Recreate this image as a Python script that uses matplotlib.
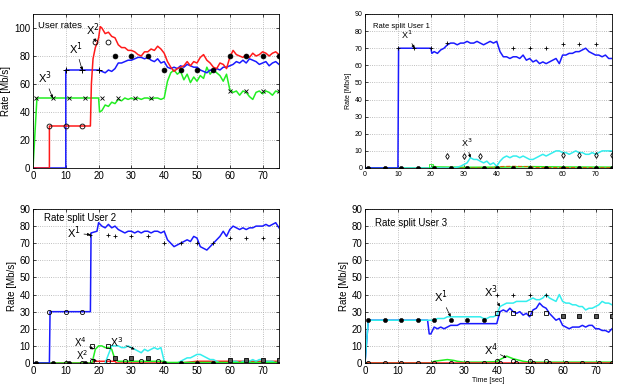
import matplotlib
matplotlib.use("Agg")
import matplotlib.pyplot as plt

plt.rcParams['font.family'] = ['Liberation Sans', 'DejaVu Sans']

# ---------------- data ----------------
noisy_t = list(range(21, 76))

# Panel 1: user rates
u2_t = [0, 5, 5, 10, 17.5, 17.8, 18.3, 19, 19.5, 20, 20.5] + noisy_t
u2_v = [0, 0, 30, 30, 30, 60, 78, 86, 89, 93, 101] + [
    100, 96, 97, 94, 93, 88, 86, 86, 84, 84, 83, 81, 80, 83, 83, 85, 84, 87, 85, 82,
    76, 72, 69, 71, 72, 73, 76, 73, 76, 75, 79, 81, 77, 75, 72, 71, 75, 74, 71, 79,
    84, 81, 80, 79, 81, 79, 82, 80, 81, 83, 82, 80, 82, 83, 81]
u1_t = [0, 10, 10, 20] + noisy_t
u1_v = [0, 0, 70, 70] + [
    69, 68, 70, 69, 71, 75, 75, 76, 77, 77, 78, 79, 79, 78, 79, 77, 76, 78, 75, 76,
    72, 71, 72, 71, 73, 72, 74, 73, 72, 72, 70, 69, 68, 70, 69, 71, 70, 72, 72, 73,
    74, 76, 75, 77, 75, 78, 77, 76, 74, 75, 76, 73, 75, 76, 74]
u3_t = [0, 1.2, 20, 20.3] + noisy_t
u3_v = [0, 50, 50, 40] + [
    41, 45, 44, 47, 46, 49, 48, 50, 49, 50, 49, 50, 49, 50, 50, 49, 50, 50, 49, 50,
    62, 68, 70, 67, 69, 63, 67, 61, 65, 62, 66, 64, 72, 67, 70, 68, 66, 62, 67, 56,
    54, 55, 52, 55, 54, 51, 49, 54, 55, 53, 55, 54, 52, 55, 54]

# Panel 2: rate split user 1
s1_x1_t = [0, 10, 10.2, 20, 20.3] + noisy_t
s1_x1_v = [0, 0, 70, 70, 67] + [
    68, 67, 69, 70, 72, 73, 73, 72, 73, 73, 74, 73, 73, 74, 73, 72, 73, 74, 73, 74,
    68, 65, 65, 64, 65, 65, 64, 66, 63, 64, 62, 63, 61, 62, 61, 62, 63, 64, 61, 66,
    66, 67, 67, 68, 68, 69, 70, 68, 67, 66, 66, 65, 66, 64, 64]
s1_x3_t = [0, 27] + list(range(28, 76))
s1_x3_v = [0, 0] + [
    0.5, 1, 2, 3, 6, 5, 5, 4, 3, 4, 2, 3, 1, 4, 6, 7, 6, 7, 7, 6,
    7, 6, 5, 5, 6, 7, 8, 7, 8, 9, 10, 10, 9, 9, 8, 9, 10, 9, 9, 8,
    8, 9, 8, 9, 10, 10, 10, 10]
s1_g_t = [0, 20, 20.5, 22, 30, 40, 50, 60, 75]
s1_g_v = [0, 0, 1, 0.6, 0.4, 0.5, 0.8, 0.6, 0.5]
s1_r_t = [0, 38, 40, 45, 50, 52, 75]
s1_r_v = [0, 0, 0.8, 1.0, 0.8, 0.3, 0.2]

# Panel 3: rate split user 2
s2_x1_t = [0, 5, 5.2, 17.5, 17.7, 19.5, 20] + noisy_t
s2_x1_v = [0, 0, 30, 30, 76, 77, 82] + [
    80, 79, 81, 79, 80, 78, 77, 76, 77, 77, 76, 77, 76, 77, 77, 76, 77, 77, 76, 77,
    72, 70, 68, 69, 70, 71, 72, 71, 74, 73, 68, 67, 66, 68, 70, 72, 74, 77, 74, 78,
    80, 79, 78, 79, 78, 79, 79, 80, 80, 80, 81, 80, 81, 82, 79]
s2_x4_t = [0, 18, 19, 20, 21, 22, 23, 24, 25, 26, 30, 35, 40, 41, 75]
s2_x4_v = [0, 0, 8, 10, 10, 9, 9, 8, 2, 1, 1, 1, 1, 0.3, 0.3]
s2_x3_t = list(range(22, 76))
s2_x3_v = [
    0, 5, 10, 10, 10, 9, 9, 10, 9, 8, 7, 6, 8, 7, 8, 9, 8, 9, 1, 0,
    0, 0, 0, 1, 2, 3, 3, 4, 5, 5, 4, 3, 2, 2, 1, 0, 0, 0, 0, 1,
    1, 0, 1, 1, 1, 2, 1, 2, 2, 1, 1, 1, 0, 1]
s2_x2_t = [0, 18, 18.5, 25, 25.5, 45, 50, 75]
s2_x2_v = [0, 0, 1, 1, 0, 0, 1, 1]

# Panel 4: rate split user 3
s3_x3_t = [0, 1, 20] + noisy_t
s3_x3_v = [0, 25, 25] + [
    25, 26, 26, 26, 27, 27, 27, 27, 27, 27, 27, 27, 27, 27, 27, 26, 26, 27, 27, 28,
    33, 34, 35, 35, 35, 36, 36, 36, 36, 37, 38, 37, 37, 38, 40, 38, 37, 36, 40, 36,
    35, 35, 34, 34, 33, 33, 31, 32, 32, 33, 34, 36, 35, 35, 34]
s3_x1_t = [0, 1, 19, 19.5, 20] + noisy_t
s3_x1_v = [0, 25, 25, 17, 17] + [
    21, 20, 21, 20, 21, 22, 22, 22, 23, 23, 23, 23, 23, 23, 23, 23, 23, 23, 23, 23,
    30, 31, 30, 32, 30, 29, 30, 28, 29, 27, 31, 32, 35, 33, 32, 29, 27, 25, 26, 22,
    21, 20, 21, 21, 21, 22, 21, 22, 22, 20, 20, 19, 19, 18, 20]
s3_x4_t = [0, 20, 21, 23, 25, 27, 28, 30, 35, 40, 41, 43, 45, 48, 50, 75]
s3_x4_v = [0, 0, 1, 1.5, 2, 1.5, 1, 0.5, 0.5, 0.8, 2, 4, 2.5, 1, 0.5, 0.5]

marker_ticks = [0, 10, 20, 30, 40, 50, 60, 70]

# ---------------- drawing ----------------
RED, BLUE, GREEN, CYAN = '#ff1a1a', '#1a1aff', '#22ee22', '#33eeee'
W, H = 618, 386
fig = plt.figure(figsize=(W / 100, H / 100), dpi=100)


def make_ax(l, t, r, b, ylim, yticks, fs):
    ax = fig.add_axes([l / W, 1 - b / H, (r - l) / W, (b - t) / H])
    ax.set_xlim(0, 75)
    ax.set_ylim(*ylim)
    ax.set_xticks(marker_ticks)
    ax.set_yticks(yticks)
    ax.grid(True, linestyle=':', color='#aaaaaa', linewidth=0.6)
    ax.tick_params(direction='in', top=True, right=True, labelsize=fs,
                   length=2.5, width=0.5, pad=2)
    for s in ax.spines.values():
        s.set_linewidth(0.6)
    ax.set_ylabel('Rate [Mb/s]', fontsize=fs, labelpad=2)
    return ax


def mk(ax, xs, ys, m, **kw):
    ax.plot(xs, ys, linestyle='none', marker=m, color='k', zorder=5, **kw)


def arrow(ax, txt, xy, xytext, fs):
    ax.annotate(txt, xy=xy, xytext=xytext, fontsize=fs,
                arrowprops=dict(arrowstyle='-|>', color='k', lw=0.5,
                                mutation_scale=4, shrinkA=0, shrinkB=0), zorder=6)


lw = 1.1
# ---- panel 1
ax1 = make_ax(33, 14, 279, 168, (0, 110), [0, 20, 40, 60, 80, 100], 7)
ax1.plot(u3_t, u3_v, color=GREEN, lw=lw)
ax1.plot(u1_t, u1_v, color=BLUE, lw=lw)
ax1.plot(u2_t, u2_v, color=RED, lw=lw)
mk(ax1, [10, 15, 20], [70, 70, 70], '+', ms=4, mew=0.7)
mk(ax1, [1, 6, 11, 16, 21, 26, 31, 36, 60, 65, 70, 75], [50] * 8 + [55] * 4, 'x', ms=2.5, mew=0.6)
mk(ax1, [5, 10, 15, 19, 23], [30, 30, 30, 90, 90], 'o', ms=3.5, mfc='none', mew=0.6)
mk(ax1, [25, 30, 35, 40, 45, 50, 55, 60, 65, 70, 75], [80, 80, 80, 70, 70, 70, 70, 80, 80, 80, 80], 'o', ms=3.5, mew=0.5)
ax1.text(1.5, 100, 'User rates', fontsize=6.8)
arrow(ax1, r'X$^2$', (19, 90), (16.2, 95), 8)
arrow(ax1, r'X$^1$', (15, 70), (11, 82), 8)
arrow(ax1, r'X$^3$', (6, 50), (1.5, 61), 8)

# ---- panel 2
ax2 = make_ax(365, 14, 612, 168, (0, 90), list(range(0, 91, 10)), 5)
ax2.plot(s1_g_t, s1_g_v, color=GREEN, lw=lw)
ax2.plot(s1_r_t, s1_r_v, color='#cc6600', lw=0.8, ls='--')
ax2.plot(s1_x3_t, s1_x3_v, color=CYAN, lw=lw)
ax2.plot(s1_x1_t, s1_x1_v, color=BLUE, lw=lw)
mk(ax2, [10, 15, 20, 25, 45, 50, 55, 60, 65, 70], [70, 70, 70, 73, 70, 70, 70, 72.5, 72.5, 72.5], '+', ms=3, mew=0.6)
mk(ax2, [25, 30, 35, 60, 65, 70, 75], [7, 7, 7, 7.5, 7.5, 7.5, 7.5], 'd', ms=3, mfc='none', mew=0.6)
mk(ax2, [1, 6, 11, 16, 21, 26, 31, 36, 40, 45, 50, 55, 60, 65, 70, 75], [0] * 16, 'o', ms=3, mew=0.4)
ax2.plot([20], [1], marker='s', color=GREEN, mfc='none', ms=3, mew=0.6, ls='none')
ax2.text(2.5, 82, 'Rate split User 1', fontsize=5.5)
arrow(ax2, r'X$^1$', (15, 70), (11, 75.5), 6.5)
arrow(ax2, r'X$^3$', (32, 6), (29, 12), 6.5)

# ---- panel 3
ax3 = make_ax(33, 209, 279, 363, (0, 90), list(range(0, 91, 10)), 7)
ax3.plot(s2_x2_t, s2_x2_v, color=RED, lw=lw)
ax3.plot(s2_x3_t, s2_x3_v, color=CYAN, lw=lw)
ax3.plot(s2_x4_t, s2_x4_v, color=GREEN, lw=lw)
ax3.plot(s2_x1_t, s2_x1_v, color=BLUE, lw=lw)
mk(ax3, [17.5, 23, 25, 30, 35, 40, 45, 50, 55, 60, 65, 70, 75],
   [75, 75, 74, 74, 74, 70, 70, 70, 70, 73, 73, 73, 73], '+', ms=3.5, mew=0.6)
mk(ax3, [5, 10, 15, 18, 23, 28, 33, 38], [30, 30, 30, 1, 1, 1, 1, 1], 'o', ms=3, mfc='none', mew=0.6)
mk(ax3, [10, 15], [0, 0], 'o', ms=3, mfc='none', mew=0.6)
mk(ax3, [1, 6, 11, 16, 40, 45, 50, 55], [0] * 8, 'o', ms=3, mew=0.4)
mk(ax3, [18, 23], [10, 10], 's', ms=3, mfc='none', mew=0.6)
mk(ax3, [25, 30, 35, 60, 65, 70, 75], [3, 3, 3, 2, 2, 2, 2], 's', ms=3, mfc='#555555', mew=0.6)
ax3.text(3.5, 83, 'Rate split User 2', fontsize=7)
arrow(ax3, r'X$^1$', (17.5, 75), (10.5, 73), 8)
arrow(ax3, r'X$^4$', (18.5, 8), (12.5, 9.5), 7)
arrow(ax3, r'X$^2$', (19.5, 1), (13, 1.8), 7)
arrow(ax3, r'X$^3$', (31, 8), (23.5, 9.5), 7.5)

# ---- panel 4
ax4 = make_ax(365, 209, 612, 363, (0, 90), list(range(0, 91, 10)), 7)
ax4.plot(s3_x4_t, s3_x4_v, color=GREEN, lw=lw)
ax4.plot([0, 75], [0, 0], color=RED, lw=lw)
ax4.plot(s3_x1_t, s3_x1_v, color=BLUE, lw=lw)
ax4.plot(s3_x3_t, s3_x3_v, color=CYAN, lw=lw)
mk(ax4, [1, 6, 11, 16, 21, 26, 31, 36], [25] * 8, 'o', ms=3, mew=0.4)
mk(ax4, [40, 45, 50, 55], [29, 29, 29, 29], 's', ms=3, mfc='none', mew=0.6)
mk(ax4, [60, 65, 70, 75], [27.5] * 4, 's', ms=3, mfc='#555555', mew=0.6)
mk(ax4, [40, 45, 50, 55], [40] * 4, '+', ms=3.5, mew=0.6)
mk(ax4, [1, 6, 11, 16, 21, 26, 31, 36, 41, 46, 51, 56, 61, 66, 71, 75], [0] * 16, 'o', ms=3, mfc='none', mew=0.6)
mk(ax4, [40, 45, 50, 55], [1, 1, 1, 1], 'o', ms=3, mfc='none', mew=0.6)
ax4.text(3, 80, 'Rate split User 3', fontsize=7)
ax4.set_xlabel('Time [sec]', fontsize=5, labelpad=1)
arrow(ax4, r'X$^1$', (26, 27), (21, 36), 8)
arrow(ax4, r'X$^3$', (41, 33), (36, 39), 8)
arrow(ax4, r'X$^4$', (43, 3), (36, 5), 8)

fig.savefig('out.png', dpi=100)
